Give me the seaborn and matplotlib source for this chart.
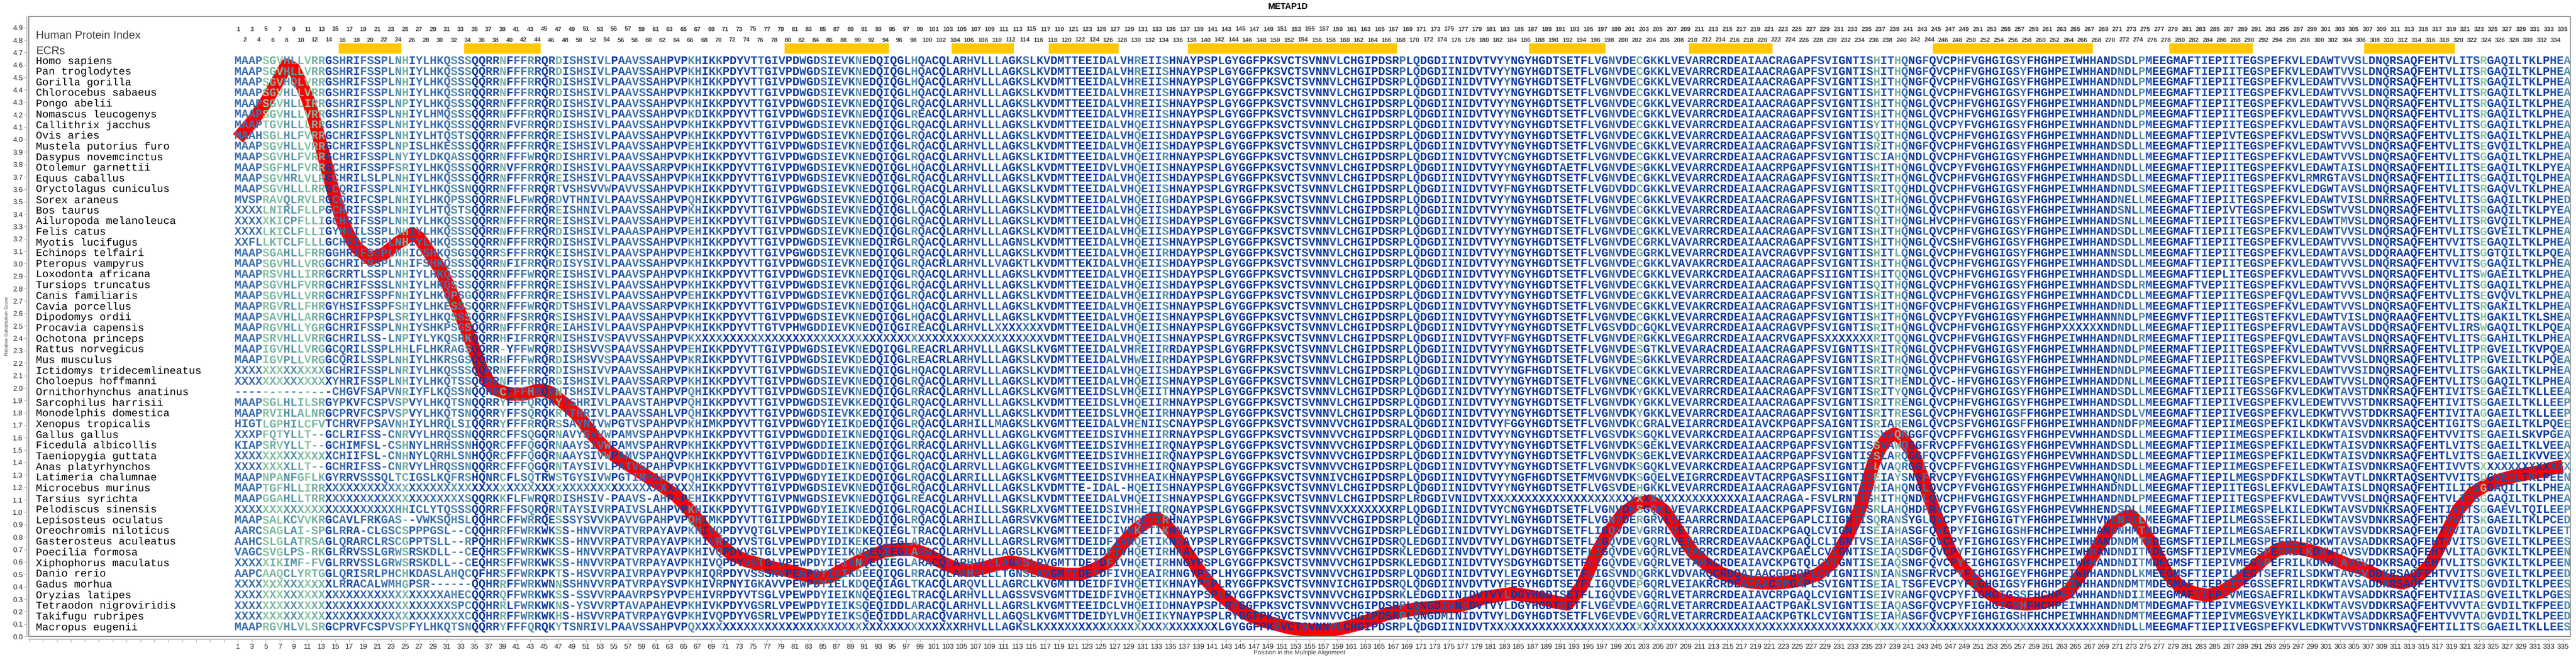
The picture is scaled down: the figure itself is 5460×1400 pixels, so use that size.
import matplotlib
matplotlib.use("Agg")
import matplotlib.pyplot as plt
from matplotlib.patches import Rectangle
import seaborn as sns

# ---------------- data ----------------
title = "METAP1D"

species = [
    "Homo sapiens", "Pan troglodytes", "Gorilla gorilla", "Chlorocebus sabaeus",
    "Pongo abelii", "Nomascus leucogenys", "Callithrix jacchus", "Ovis aries",
    "Mustela putorius furo", "Dasypus novemcinctus", "Otolemur garnettii",
    "Equus caballus", "Oryctolagus cuniculus", "Sorex araneus", "Bos taurus",
    "Ailuropoda melanoleuca", "Felis catus", "Myotis lucifugus", "Echinops telfairi",
    "Pteropus vampyrus", "Loxodonta africana", "Tursiops truncatus", "Canis familiaris",
    "Cavia porcellus", "Dipodomys ordii", "Procavia capensis", "Ochotona princeps",
    "Rattus norvegicus", "Mus musculus", "Ictidomys tridecemlineatus",
    "Choloepus hoffmanni", "Ornithorhynchus anatinus", "Sarcophilus harrisii",
    "Monodelphis domestica", "Xenopus tropicalis", "Gallus gallus",
    "Ficedula albicollis", "Taeniopygia guttata", "Anas platyrhynchos",
    "Latimeria chalumnae", "Microcebus murinus", "Tarsius syrichta",
    "Pelodiscus sinensis", "Lepisosteus oculatus", "Oreochromis niloticus",
    "Gasterosteus aculeatus", "Poecilia formosa", "Xiphophorus maculatus",
    "Danio rerio", "Gadus morhua", "Oryzias latipes", "Tetraodon nigroviridis",
    "Takifugu rubripes", "Macropus eugenii",
]

# evolutionarily conserved regions (human positions)
ecr_start = [16, 34, 80, 104, 118, 138, 187, 210, 245, 279, 307]
ecr_end = [24, 44, 94, 112, 127, 167, 197, 221, 267, 290, 319]

# smoothed relative substitution score (red curve)
score_pos = [1, 3, 5, 7, 8, 9, 10, 11, 12, 13,
             14, 15, 16, 17, 18, 20, 22, 24, 26, 27,
             28, 30, 31, 32, 33, 34, 35, 36, 37, 38,
             40, 42, 44, 45, 46, 48, 50, 52, 54, 56,
             58, 60, 62, 64, 66, 68, 70, 72, 74, 76,
             78, 80, 82, 84, 86, 88, 90, 92, 94, 96,
             98, 100, 102, 104, 106, 108, 110, 112, 114, 116,
             118, 120, 122, 124, 126, 128, 130, 132, 133, 134,
             136, 138, 140, 142, 144, 146, 148, 150, 152, 154,
             156, 158, 160, 162, 164, 166, 168, 170, 172, 174,
             176, 178, 180, 182, 184, 186, 188, 190, 192, 194,
             195, 196, 197, 198, 200, 202, 204, 206, 208, 210,
             212, 214, 216, 218, 220, 222, 224, 226, 228, 230,
             232, 234, 236, 237, 238, 239, 240, 241, 242, 243,
             244, 245, 246, 247, 248, 250, 252, 254, 256, 258,
             260, 262, 264, 266, 268, 270, 272, 273, 274, 276,
             278, 280, 282, 284, 286, 288, 290, 292, 294, 296,
             298, 300, 302, 304, 306, 308, 310, 312, 314, 316,
             318, 320, 322, 324, 326, 328, 330, 332, 334, 335]
score_val = [4.01, 4.14, 4.30, 4.50, 4.60, 4.57, 4.46, 4.33, 4.15, 3.94,
             3.72, 3.52, 3.34, 3.22, 3.13, 3.04, 3.08, 3.17, 3.24, 3.21,
             3.13, 2.96, 2.85, 2.72, 2.59, 2.45, 2.30, 2.15, 2.05, 1.99,
             1.95, 1.95, 1.98, 1.98, 1.96, 1.87, 1.77, 1.62, 1.50, 1.42,
             1.35, 1.28, 1.21, 1.13, 1.01, 0.87, 0.75, 0.66, 0.61, 0.58,
             0.55, 0.53, 0.50, 0.47, 0.48, 0.54, 0.60, 0.65, 0.69, 0.70,
             0.70, 0.66, 0.60, 0.55, 0.53, 0.55, 0.58, 0.60, 0.58, 0.54,
             0.51, 0.50, 0.50, 0.54, 0.60, 0.74, 0.86, 0.94, 0.95, 0.92,
             0.78, 0.62, 0.46, 0.34, 0.25, 0.18, 0.13, 0.10, 0.07, 0.055,
             0.05, 0.05, 0.07, 0.10, 0.14, 0.18, 0.20, 0.22, 0.23, 0.24,
             0.24, 0.27, 0.31, 0.33, 0.345, 0.33, 0.31, 0.28, 0.26, 0.40,
             0.52, 0.65, 0.75, 0.84, 0.99, 1.07, 1.09, 1.01, 0.84, 0.68,
             0.58, 0.51, 0.47, 0.44, 0.43, 0.43, 0.44, 0.46, 0.50, 0.59,
             0.78, 1.02, 1.40, 1.52, 1.60, 1.63, 1.60, 1.53, 1.43, 1.28,
             1.12, 0.97, 0.83, 0.69, 0.60, 0.47, 0.37, 0.30, 0.27, 0.26,
             0.27, 0.30, 0.36, 0.52, 0.70, 0.88, 0.96, 0.97, 0.92, 0.74,
             0.52, 0.40, 0.35, 0.33, 0.36, 0.43, 0.52, 0.62, 0.70, 0.72,
             0.70, 0.67, 0.63, 0.58, 0.55, 0.50, 0.45, 0.43, 0.47, 0.58,
             0.80, 1.02, 1.15, 1.22, 1.26, 1.29, 1.31, 1.33, 1.36, 1.37]

# colour class of every alignment column (0 = light green ... 5 = dark blue)
column_level = (
    "3333010221" "0115334433" "4332143333" "3232554415" "3324541433"
    "3432543334" "4354523543" "5554435445" "5454344342" "4554554244"
    "5545434443" "4543444554" "4554534442" "4442545554" "5454555554"
    "5554555445" "5555555354" "5554454555" "5535555555" "4555445345"
    "4153454544" "4555554444" "5445454444" "5544414413" "5535455354"
    "5554543555" "5544554554" "3442455555" "5445544455" "4354445354"
    "5434435545" "5555555444" "4405444454" "55442"
)

# alignment, positions 1-85
seg_a = [
    "MAAPSGVHLLVRRGSHRIFSSPLNHIYLHKQSSSQQRRNFFFRRQRDISHSIVLPAAVSSAHPVPKHIKKPDYVTTGIVPDWGDS",
    "MAAPSGVHLLVRRGSHRIFSSPLNHIYLHKQSSSQQRRNFFFRRQRDISHSIVLPAAVSSAHPVPKHIKKPDYVTTGIVPDWGDS",
    "MAAPSGVHQLVRRGSHRIFSSPLNHIYLHKQSSSQQRRNFFFRRQRDISHSIVLPAAVSSAHPVPKHIKKPDYVTTGIVPDWGDS",
    "MAAPSGVHLLVRRGSHRIFSSPLNHIYLHKQSSRQQRRNFFFRRQRDISHSIVLPAAVSSAHPVPKHIKKPDYVTTGIVPDWGDS",
    "MAAPSGVHLLIRRGSHRIFSSPLNPIYLHKQSSSQQRRNFFFRRQRDISHSIVLPAAVSSAHPVPKHIKKPDYVTTGIVPDWGDS",
    "MAAPSGVHLLVRRGSHRIFSSPLNHIYLHMQSSSQQRRNFFFRRQRDISHSIVLPAAVSSAHPVPKDIKKPDYVTTGIVPDWGDS",
    "MAAPTGVHLLLRRGSHRIFSSPLNHIYLHKQSSSQQRRNFVFRRQRDISHSIVLPAAVSSAHPVPKHIKKPDYVTTGIVPDWGDS",
    "MAAHSGLHLFVRRGCHRIFSSPLNHIYLHTQSTSQQRRNFFFRRQREISHSIVLPAAVSSAHPVPKHIKKPDYVTTGIVPDWGDS",
    "MAAPSGVHLLVRRGCHRIFSSPLNPISLHKESSSQQRRNFFFRRQREISHSIVLPAAVSSAHPVPEHIKKPDYVTTGIVPDWGDS",
    "MAAPSGVHLFVRRGCHRIFSSPLNYIYLDKQASSQQRRNFFFWRQRDISHRIVLPAAVSSAHPVPKHIKKPDYVTTGIVPDWGDS",
    "MAAPSGFHLFVRRGCHRIFSSPFSRIYLHKQSSSQQRRNVFFRRQRDISHSIVLPAAVSSARPVPKHIKKPDYVTTGIVPDWGDS",
    "MAAPSGVHRLVLRGCHRILSLPLNHIYLHKQSSSQQRRNFFFRRQREISHSIVLPAAVSSAHPVPKHIKKPDYVTTGIVPDWGDS",
    "MAAPSGVHLLLRRGCQRIFSSPLNHIYLHKQSSNQQRRNFFFRRQRTVSHSVVWPAVVSSAHPVPKHIKKPDYVTTGIVPDWGDS",
    "MVSPRAVQLRVLRGCQRIFCSPLNHIYLHKQPSSQQRRNFLFWRQRDVTHNIVLPAAVSSAHPVPQHIKKPDYVTTGIVPGWGDS",
    "XXXXLNIRLFLLPGCHRIFSSPLNHIYLHTQSTSQQRRNFFFRRQREISHNIVLPAAVSSAHPVPKHIKKPDYVTTGIVPDWGDS",
    "XXXXXKICPFLLIGCHRIFSSPLNHIYLHKQSSSQQRRNFFFRRQREISHSIVLPAAVSSAHPVPEHIKKPDYVTTGIVPDWGDS",
    "XXXXLKICLFLLIGYHRILSSPLNHIYLHKQSSSQQRRNFFFRRQRDISHSIVLPAAASPAHPVPEHIKKPDYVTTGIVPDWGDS",
    "XXFLLKTCLFLLLGCHRIFSSPLNHIYLHKQSSSQQRRNFFFRRQRDISHSIVLPAAVSSAHPVPKHIKKPDYVTTGIVPDWGDS",
    "MAAPSGAHLLFRRGGHRIFSSPLNHICSHKQSGSQQRRSFFFRRQKEISHSIVLPAAVSPAHPVPEHIKKPDYVTTGIVPGWGDS",
    "MAAPSGVHLLVRGGCHRIFSSPLNHIFSHKQSSSQQRRNFIFRRQRDISYSIVLPAAVSSAHPVPKHIKKPDYVTTGIVPDWGDS",
    "MAAPRSVHLLIRRGCRRTLSSPLNHIYLHKQSSSQQRRNFFFWRQREISHSIVLPAAVSPAHPVPKHIKKPDYVTTGIVPDWGDS",
    "MAAPSGVHLFVRRGCHRIFSSSLNHIYLHKQSSSQQRRNFFFRRQREISHSIVLPAAVSSAHPVPKHIKKPDYVTTGIVPDWGDS",
    "MAAPSGVHLLVRRGCHRIFSSPFNHIYLHKQPSGQQRRNFFFRRQREISHSIVLPAAVSSAHPVPEHIKKPDYVTTGIVPDWGDS",
    "MAAPRGVRLLFHRGYHSIFSSPFSHIYLHKESSSQQRRNFFFWRQRDTSHSIVLPAAVSSARPVPKHIKKPDYVTTGIVPDWGDS",
    "MAAPSAVHLLARRGCHRIFPSPLSRIYLHKQSSSQQRRNFFSRRQRSISHSIVLPAAVSSAHPVPKHIKKPDYVTTGIVPDWGDS",
    "MAAPRGVHLLYGRGCHRIFSSPLNHIYSHKPSGSQQRRNFFFRRQREIAHSIVLPAAVSPAHPVPKHIKKPDYVTTGTVPHWGDD",
    "MAAPSRVHLLVRRGCHRILSS-LNPIYLYKQSRKQQRRHFIFRRQRNISHSIVSPAVVSSAHPVPKXXXXXXXXXXXXXXXXXXX",
    "MAAPIGVHLLVRGGCQRILSSPLHHLFLHKRAGSQQRR-YFFWRQRDISHSVVSPAAVSSAHPVPEHIKKPDYVTTGIVPDWGDS",
    "MAAPIGVPLLVRGGCQRILSSPLNHIYLHKRSGSQQRRHFFFWRQRDISHSVVSPAAVSSAHPVPKRIKKPDYVTTGIVPDWGDS",
    "XXXXXXXXXXXXXGCHRIFSSPLNRIYLHKQSSSQQRRNFFFRRQRDISHSIVVPAAVSSAHPVPKHIKKPDYVTTGIVPDWGDS",
    "XXXXXXXXXXXXXXYHRIFSSPLNHIYLHKQTSSQQRRNFFFRRQRGISHSIVLPAAVSSARPVPKHIKKPDYVTTGIVPDWGDS",
    "--------------CHGVFSAPVNRIYFLKQSSNQQRRCFFFHRQRNTSHSIVLPAAVSTAHPVPQHIKKPDYVTTGIVPDWGDS",
    "MAAPSGLHLILSRGYPKVFCSPVSPVYLHKQTSNQQRRYFFFQRQKYTSHRIVLPAAVSTAHPVPQHIKKPDYVTTGIVPDWGDS",
    "MAAPRVIHLALNRGCPRVFCSPVSPVYLHKQTSNQQRRYFFSQRQKRTTHRIVLPAAVSSAHLVPQHIKKPDYVTTGIVPDWGDS",
    "HIGTLGPHILCFVTCHRVFPSAVNHIYLHRQLSIQQRRYFFFRRQRSSAYNIVWPGTVSPAHPVPKHIMKPDYVTTGIVPDWGDY",
    "XXXPFQTYLLT--GCLRIFSS-CNRVYLHRQSSNQQRRCFFSQGQRNAVYSVVWPAMVSPAHPVPKHIKKPDYVTTGIVPDWGDD",
    "KIAPSRVYLLT--GCHIMFSL-CSHNYLHRHSSNHQQRCFFFQGQRNAAYSIVWPAMVSPAHRVPKHIKKPDYVTTGIVPDWGDD",
    "XXXXXXXXXXXXXXCHIIFSL-CNHNYLQRHLSNHQQRCFFFQGQRNAAYSIVWPAMVSPAHQVPKHIKKPDYVTTGIVPDWGDD",
    "XXXXXXXXLLT--GCHRIFSS-CNRVYLHRQSSNQQRRCFFFQGQRNTAYSIVLPATVSPAHPVPKHIKKPDYVTTGIVPDWGDD",
    "MAAPNPANFGFLKGYRRVSSSQLTCIGSLKQFRSHQNRCFLSQTRWSTGYSIVWPGTIMPAHPVPQHIKKPDYVTTGIVPDWGDY",
    "MAAPTGFHLLIRRXXXXXXXXXXXXXXXXXXXXXXXXXXXXXXXXXXXXXXXXXXXXXXXXXXXXXHIKKPDYVTTGIVPDWGDS",
    "MAAPGGAHLLTRRXXXXXXXXXXXXXXXXXXXXSQQRKKFLFWRQRDISHSIV-PAAVS-AHP-PEHIKKPDYVTTGIVPNWGDS",
    "XXXXXXXXXXXXXXXXXXXXXXXHHICLYTQSSSQQRRFFFSQRQRNTAYSIVRPAIVSLAHPVPKHIKKPDYVTTGIVPDWGDY",
    "MAAPSALKCVVKRGCAVLFRKGAS--VWKSQHSLQQHRCFFWRRQESSSYSVVKPAVVGPAHPVPQHIMKPDYVTTGIIPDWGDY",
    "AARCSAGLAI-SPGLRRA-CLGSCSPPPGSL--CQQHRRFFWRKWKSS-HNVVRPATVRPAYAVPKHIVQPDYVQTGLVPEWPDY",
    "AAHCSLGLATRSAGLQRARCLRSCGPPTSLL--RPQHRHFFWRKWKSS-HNVVRPATVRPAYAVPKHIVRPDYVSTGLVPEWPDY",
    "VAGCSVGLPS-RKGLRRVSSLGRWSRSKDLL--CEQHRSFFWRKWKSS-HNVVRPATVRPAYAVPKHIVQPDYVSTGLVPEWPDY",
    "XXXXXIKIMF-FVGLRRVSSLGRWSRSKDLL--CEQHRSFFWRKWKSS-HNVVRPATVRPAYAVPKHIVQPDYVSTGLVPEWPDY",
    "AAPCAAQCLYRTGGLQRISRLPHCHKDASLAHQCQFHRSFFWRKPKTS-HSVVRPAIVRPAYPVPKHIQRPDYVSSSKVPEWPDY",
    "XXXXXXXXXXXXXXLRRACALWMHGPSR------QQHRRFFWRKWNNSSHNVVRPATVRPAYSVPKHIVRPNYIGKAVVPEWPDY",
    "XXXXXXXXXXXXXXXXXXXXXXXXXXXXXXAHECQQRRQFFWRKWKSS-SSVVRPAAVRPSYPVPEHIVRPDYVTSGLVPEWPDY",
    "XXXXXXXXXXXXXXXXXXXXXXXXXXXXXXXSPCQQHRRLFWRKWKNS-YSVVRPTAVAPAHEVPKHIVKPDYVGSRLVPEWPDY",
    "XXXXXXXXXXXXXXXXXXXXXXXXXXXXXXXXXCQQHRRFFWRKWKHS-HSVVRPATVRPAYGVPKHIVQPDYVGSRLVPEWPDY",
    "MAAPRGVHLVLSRGCPRVFCSPVSPFYLHKQTSNQQRRYFFFQRQKYTSNRIVLPAAVSSAHPVPQXXXXXXXXXXXXXXXXXXX",
]

# alignment, positions 85-170 (first letter repeats position 85)
seg_b = [
    "SIEVKNEDQIQGLHQACQLARHVLLLAGKSLKVDMTTEEIDALVHREIISHNAYPSPLGYGGFPKSVCTSVNNVLCHGIPDSRPLQ",
    "SIEVKNEDQIQGLHQACQLARHVLLLAGKSLKVDMTTEEIDALVHREIISHNAYPSPLGYGGFPKSVCTSVNNVLCHGIPDSRPLQ",
    "SIEVKNEDQIQGLHQACQLARHVLLLAGKSLKVDMTTEEIDALVHREIISHNAYPSPLGYGGFPKSVCTSVNNVLCHGIPDSRPLQ",
    "SIEVKNEDQIQGLHQACQLARHVLLLAGKSLKVDMTTEEIDALVHREIISHNAYPSPLGYGGFPKSVCTSVNNVLCHGIPDSRPLQ",
    "SIEVKNEDQIQGLRQACQLARHVLLLAGKSLKVDMTTEEIDALVHREIISHNAYPSPLGYGGFPKSVCTSVNNVLCHGIPDSRPLQ",
    "SIEVKNEDQIQGLREACQLARHVLLLAGKSLKVDMTTEEIDALVHREIISHNAYPSPLGYGGFPKSVCTSVNNVLCHGIPDSRPLQ",
    "SIEVKNEDQIQGLRQACQLARHVLLLAGKSLKVDMTTEEIDALVHQEIISHNAYPSPLGYGGFPKSVCTSVNNVLCHGIPDSRPLQ",
    "SIEVKNEDQIQGLRQACQLARHVLLLAGKSLKVDMTTEEIDALVHQEIISHDAYPSPLGYGGFPKSVCTSVNNVLCHGIPDSRPLQ",
    "SIEVKNEDQIQGLRQACQLARHVLLLAGKSLKVDMTTEEIDALVHQEIISHDAYPSPLGYGGFPKSVCTSVNNVLCHGIPDSRPLQ",
    "SIEVKNEDQIQGLRQACQLARHVLLLAGKSLKIDMTTEEIDALVHQEIIRHNAYPSPLGYGGFPKSVCTSVNNVLCHGIPDSRPLQ",
    "SIEVKNEDQIQGLHQACQLARHVLLLAGKSLKVDMTTEEIDVLVHQEIISHNAYPSPLGYGGFPKSVCTSVNNVLCHGIPDSRPLQ",
    "SIEVKNEDQIQGLRQACQLARHVLLLAGKSLKVDMTTEEIDALVHQEIISHDAYPSPLGYGGFPKSVCTSVNNVLCHGIPDSRPLQ",
    "SIEVKNEDQIQGLRQACQLARHVLLLAGKSLKVDMTTEEIDALVHQEIISHNAYPSPLGYRGFPKSVCTSVNNVLCHGIPDSRPLQ",
    "SIEVKNEDQIQGLRQACQLARHVLLLAGKSLKVDMTTEEIDALVHQEIIGHDAYPSPLGYGGFPKSVCTSVNNVLCHGIPDSRPLQ",
    "SIEVKNEDQIQGLLQACQLARHVLLLAGKSLKVDMTTEEIDALVHQEIISHDAYPSPLGYGGFPKSVCTSVNNVLCHGIPDSRPLQ",
    "SIEVKNEDQIQGLRQACQLARHVLLLAGKSLKVDMTTEEIDALVHQEIISHDAYPSPLGYGGFPKSVCTSVNNVLCHGIPDSRPLQ",
    "SIEVKNEDQIQGLRQACQLARHVLLLAGKSLKVDMTTEEIDALVHQEIISHDAYPSPLGYGGFPKSVCTSVNNVLCHGIPDSRPLQ",
    "SIEVKNEDQIRGLRQACQLARHVLLLAGNSLKVDMTTEEIDALVHQEIISHNAYPSPLGYGGFPKSVCTSVNNVLCHGIPDSRPLQ",
    "SIEVKNEDQIQGLRQACQLARHVLLLAGKSLKVDMTTEEIDALVHQEIIRHDAYPSPLGYGGFPKSVCTSVNNVLCHGIPDSRPLQ",
    "SIEVKNEDQIQGLRQACRLARHVLLVAGKTLKVDMTTEKIDALVHQEIISHDAYPSPLGYGGFPKSVCTSVNNVLCHGIPDSRPLQ",
    "SIEVKNEDQIQGLRQACQLARHVLLLAGKSLKVDMTTEEIDALVHQEIISHDAYPSPLGYGGFPKSVCTSVNNVLCHGIPDSRPLQ",
    "SIEVKNEDQIQGLRQACQLARHVLLLAGKSLKVDMTTEEIDALVHQEIISHDAYPSPLGYGGFPKSVCTSVNNVLCHGIPDSRPLQ",
    "SIEVKNEDQIQGLRQACQLARHVLLLAGKSLKVDMTTEEIDALVHQEIIRHDAYPSPLGYGGFPKSVCTSVNNVLCHGIPDSRPLQ",
    "SIEVKNEDQIQGLHQACQLARHVLLLAGKSLKVDMTTEEIDALVHQEIISHNAYPSPLGYGGFPKSVCTSVNNVLCHGIPDSRPLQ",
    "SIEVKNEDQIQGLHQACQLARHVLLLAGKSLKVDMTTEEIDALVHQEIISHNAYPSPLGYGGFPKSVCTSVNNVLCHGIPDSRPLQ",
    "DIEVKNEDQIQGIREACQLARHVLLXXXXXXXVDMTTEEIDALVHQEIISHNAYPSPLGYGGFPKSVCTSVNNVLCHGIPDSRPLQ",
    "XXXXXXXXXXXXXXXXXXXXXXXXXXXXXXXXVDMTTEEIDALVHQEIISHNAYPSPLGYRGFPKSVCTSVNNVLCHGIPDSRPLQ",
    "SIEVKNEDQIQGLREACRLARHVLLLAGKSLKVGMTTEEIDALVHREIIRRDAYPSPLGYGRFPKSVCTSVNNVLCHGIPDSRPLQ",
    "SIEVKDEDQIQGLREACRLARHVLLLAGKSLKVDMTTEEIDALVHWEIIRHDAYPSPLGYGRFPKSVCTSVNNVLCHGIPDSRPLQ",
    "SIEVKNEDQIQGLHQACQLARRVLLLAGKSLKVDMTTEEIDALVHQEIISHDAYPSPLGYGGFPKSVCTSVNNVLCHGIPDSRPLQ",
    "SIEVKNEDQIQGLRQACQLARHVLLLAGKSLKVDMTTEEIDALVHQEIISHNAYPSPLGYGGFPKSVCTSVNNVLCHGIPDSRPLQ",
    "SIEVKNEDQIQGLRRACQLARHVLLLAGKSLKVGMTTEEIDSLVHQEIITHNAYPSPLGYGGFPKSVCTSVNNVLCHGIPDSRPLQ",
    "SIEVKKEDQIQGLRQACQLARHVLLLAGKSLKVDMTTEEIDSLVHQEIIRHNAYPSPLGYGGFPKSVCTSVNNVLCHGIPDSRPLQ",
    "SIEVKKEDQIQGLRQACQLARHVLLLAGKSLKVDMTTEEIDSLVHQEIIRHNAYPSPLGYGGFPKSVCTSVNNVLCHGIPDSRPLQ",
    "YIEIKDEDQIQGLRQACQLARHILLMAGKSLKVGMTTEEIDALVHENIISCNAYPSPLGYGGFPKSVCTSVNNVVCHGIPDSRALQ",
    "DIEIKNEDQIQGLRQACQLARHVLLLAGKGLKVGMTTEEIDSIVHHEIIRRNAYPSPLGYGGFPKSVCTSVNNVVCHGIPDSRPLQ",
    "DIEIKNEDQIQGLRRACQLARHVLLLAGKGLKVGMTTEEIDSIVHHEIIRQNAYPSPLGYGGFPKSVCTSVNNVVCHGIPDSRPLQ",
    "DIEIKNEDQIQGLRQACQLARHVLLLAGKGLKVGMTTEEIDSIVHHEIIRQNAYPSPLGYGGFPKSVCTSVNNVVCHGIPDSRPLQ",
    "DIEIKNEDQIQGLRQACQLARRVLLLAGKGLKVGMTTEEIDSIVHHEIIRQNAYPSPLGYGGFPKSVCTSVNNVVCHGIPDSRPLQ",
    "YIEIKDEDQIQGLRQACQLARRILLLAGKSLKVGMTTEEIDSIVHHEAIKHNAYPSPLGYGGFPKSVCTSVNNIVCHGIPDSRPLQ",
    "SIEVKNEDQIQGLRQACQLARHVLLLAGKSLKVDMTTE-IDAL-HQEIISHNAYPSPLGYGGFPKSVCTSVNNVLCHGIPDSRPLQ",
    "SIEVKNEDQIQGLREACQLARHVLLLAGKSLKVDMTTEEIDALVHQEIISHNAYPSPLGYGGFPKSVCTSVNNVLCHGIPDSRPLR",
    "YIEIKNEDQIQGLRQACQLACHILLLSGKRLXVGMTTEEIDSIVHHEIIRQNAYPSPLGYGGFPKSVCTSVNNVXXXXXXXXRPLQ",
    "YIEIKDEDQIQGLRQACQLARHILLLAGRSVKVGMTTEEIDCIVHQETIRHNAYPSPLGYGGFPKSVCTSVNNVVCHGIPDSRPLQ",
    "YIEIKDKEQIEGLTRACQLARHVLLLAGRSLKVGMTTEEIDFIVHKETIKHNAYPSPLRYGGFPKSVCTSVNNVVCHGIPDSRPLE",
    "YIDIKEKEQIEGLARACQLARHVLLLAGRSLRVGMTTDEIDFIVHQETIKNDAYPSPLRYGGFPKSVCTSVNNVVCHGIPDSRQLE",
    "YIEIKNQEQIEGLARACQLARHVLLLAGGSLKVGMTTDEIDFIVHQETIRHNAYPSPLGYGGFPKSVCTSVNNVVCHGIPDSRKLE",
    "YIEIKNQEQIEGLARACQLARHVLLLAGGSLRVGMTTDEIDFIVHQETIRHNGYPSPLGYGGFPKSVCTSVNNVVCHGIPDSRKLE",
    "YIEIKDEEQIQGLRRACQLARHILLLTGNSLKVGMTTDEIDFIVHQEAIRHNGYPSPLHYGGFPKSVCTSVNNVVCHGIPDSRPLQ",
    "YIELKDQEQIAGLTKACQLARQVLLLAGRCLKVGMTTDEIDFIVHQETIKHNAYPSPLRYGGFPKSVCTSVNNVICHGIPDSRQLQ",
    "YIEIKNQEQIEGLTRACQLARHVLLLAGSSVSVGMTTDEIDFIVHQETIKHNAYPSPLRYGGFPKSVCTSVNNVVCHGIPDSRKLE",
    "YIEIKSQEQIDDLARACQLARHVLLLAGRSLKVGMTTEEIDCLVHQEIIDHNAYPSPLRYGGFPKSVCTSVNNVVCHGIPDSRPLQ",
    "YIEIKSQEQIDDLARACQVARHVLLLAGQSLKVGMTTDEIDYLVHQEIIKYNAYPSPLRYGGFPKSVCTSVNNVVCHGIPDSRPLQ",
    "XXXXXXXXXXXXXXXXXXXXRHVLLLAGKSLKXXXXXXXXXXXXXXXXXXXXXXXXXLGYGGFPKSVCTSVNNVLCHGIPDSRPLQ",
]

# alignment, positions 169-253 (first two letters repeat 169-170)
seg_c = [
    "LQDGDIINIDVTVYYNGYHGDTSETFLVGNVDECGKKLVEVARRCRDEAIAACRAGAPFSVIGNTISHITHQNGFQVCPHFVGHG",
    "LQDGDIINIDVTVYYNGYHGDTSETFLVGNVDECGKKLVEVARRCRDEAIAACRAGAPFSVIGNTISHITHQNGFQVCPHFVGHG",
    "LQDGDIINIDVTVYYNGYHGDTSETFLVGNVDECGKKLVEVARRCRDEAIAACRAGAPFSVIGNTISHITHQNGFQVCPHFVGHG",
    "LQDGDIINIDVTVYYNGYHGDTSETFLVGNVDECGKKLVEVARRCRDEAIAACRAGAPFSVIGNTISHITHQNGLQVCPHFVGHG",
    "LQDGDIINIDVTVYYNGYHGDTSETFLVGNVDECGKKLVEVARRCRDEAIAACRAGAPFSVIGNTISHITHQNGLQVCPHFVGHG",
    "LQDGDIINIDVTVYYNGYHGDTSETFLVGNVDECGKKLVEVARRCRDEAIAACRAGAPFSVIGNTISHITHQNGLQVCPHFVGHG",
    "LQDGDIINIDVTVYYNGYHGDTSETFLVGNVDECGKKLVEVARRCRDEAIAACRAGAPFSVIGNTISYITHQNGLQVCPYFVGHG",
    "LQDGDIINIDVTVYYNGYHGDTSETFLVGNVDECGKKLVEVARRCRDEAIAACRAGAPFSVIGNTISQITHQNGLQVCPHFVGHG",
    "LQDGDIINIDVTVYYNGYHGDTSETFLVGNVDECGKKLVEVARRCRDEAIAACRAGAPFSVIGNTISRITHQNGFQVCPHFVGHG",
    "LQDGDIINIDVTVYCNGYHGDTSETFLVGNVDECGKKLVEVARRCRDEAIAACRAGAPFSVIGNTISCIAHQNDLQVCPHFVGHG",
    "LQDGDIINIDVTVYYNGYHGDTAETFLVGNVDESGKKLVEVARRCRDEAIAACRPGAPFSVIGNTISHITHQNGLQVCPYFVGHG",
    "LQDGDIINIDVTVYYNGYHGDTSETFLVGNVDECGKKLVEVARRCRDEAIAACRAGAPFSVIGNTISRITHQNGLQVCPHFVGHG",
    "LQDGDIINIDVTVYFNGYHGDTSETFLVGDVDDCGKKLVEVARRCRDEAIAACRAGAPFSVIGNTISRITQQHDLQVCPHFVGHG",
    "LQDGDIINIDVTVYYNGYHGDTSETFLVGNVDECGKKLVEVAKRCRDEAIAACRAGAPFSVIGNTISHITHQNGLQVCPHFVGHG",
    "LQDGDIINIDVTVYYNGYHGDTSETFLVGNVDECGKKLVEVARRCRDEAIAACRAGAPFSVIGNTISQITHQNGLQVCPHFVGHG",
    "LQDGDIINIDVTVYYNGYHGDTSETFLVGNVDECGKKLVEVARRCRDEAIAACRAGAPFSVIGNTISHITHQNGLHVCPHFVGHG",
    "LQDGDIINIDVTVYYNGYHGDTSETFLVGNVDECGKKLVEVARRCRDEAIAACRAGAPFSVIGNTISHITHQNGLQVCPHFVGHG",
    "LQDGDIINIDVTVYYNGYHGDTSETFLVGNVDECGRKLVAVARRCRDEAIAACRAGAPFSVIGNTISHITHQNGLQVCSHFVGHG",
    "LQDGDIINIDVTVYYNGYHGDTSETFLVGNVDEGGRKLVEVARRCRDEAIAVCRAGVPFSVIGNTISHITLQNGLQVCPHFVGHG",
    "LQDGDIINIDVTVYYNGYHGDTSETFLVGNVDECGKKLVAVAKRCRDEAIAACRAGAPFSVIGNTISHITHQNGLQVCPHFVGHG",
    "LQDGDIINIDVTVYYNGYHGDTSETFLVGNVDECGKKLVEVARKCRDEAIAACRAGAPFSIIGNTISHITQQNGLQVCPHFVGHG",
    "LQDGDIINIDVTVYYNGYHGDTSETFLVGNVDECGKKLVEVARRCRDEAIAACRAGAPFSVIGNTISQITHQNGLQVCPHFVGHG",
    "LQDGDIINIDVTVYYNGYHGDTSETFLVGNVDECGKKLVEVARRCRDEAIAACRAGAPFSVIGNTISHITHQNGLQVCPHFVGHG",
    "LQDGDIINIDVTVYYNGYHGDTSETFLVGNVDECGKKLVEVAKRCRDEAIAACRAGAPFSVIGNTISHITHQNGFQVCPHFVGHG",
    "LQDGDIINIDVTVYYNGYHGDTSETFLVGNVDECGKKLVEVARRCRDEAIAACRAGAPFSVIGNTISHITHQNGLQVCPYFVGHG",
    "LQDGDIINIDVTVYYNGYHGDTSETFLVGSVDDCGQKLVEVARRCRDEAIAACRAGVPFSVIGNTISRITHQNGLQVCPHFVGHG",
    "LQDGDIINIDVTVYFNGYHGDTSETFLVGNVDERGKKLVEGARRCRDEAIAACRVGAPFSXXXXXXXRITQQNGLQVCPHFVGHG",
    "LQDGDIINIDVTVYYNGYHGDTSETFLVGNVDESGTKLVEVARACRDEAIAACRAGAPFSVIGNTISHITRQNGLQVCPHFVGHG",
    "LQDGDIINIDVTVYYNGYHGDTSETFLVGNVDESGKKLVEVARRCRDEAIAACRAGAPFSVIGNTISRITHQNGLQVCPHFVGHG",
    "LQDGDIINIDVTVYYNGFHGDTSETFLVGKVDECGKKLVEVARRCRDEAIAACRAGAPFSVIGNTISRITRQNGLQVCPHFVGHG",
    "LQDGDIINIDVTVYYNGYHGDTSETFLVGNVNECGKKLVEVARRCRDEAIAACRAGAPFSVIGNTISRITHENDLQVC-HFVGHG",
    "LQDGDIINIDVTVYYNGYHGDTSETFLVGNVDKYGKKLVEVARRCRDEAIAACRAGAPFSVIGNTISRITYQNGLQVCPHFVGHG",
    "LQDGDIINIDVTVYYNGYHGDTSETFLVGNVDKYGKKLVEVARRCRDEAIAACRAGAPFSVIGNTISRITRENGLQVCPHFVGHG",
    "LQDGDIINIDVTVYYNGYHGDTSETFLVGNVDKYGKKLVEVARRCRDEAIAACRAGAPFSVIGNTISRITRESGLQVCPHFVGHG",
    "LQDGDIINIDVTVYFGGYHGDTSETFLVGNVDKCGRALVEIARRCRDEAIAVCKPGAPFSAIGNTISRIARENGLQVCPSFVGHG",
    "LQDGDIINIDVTVYYNGYHGDTSETFLVGSVDKSGQKLVEVARKCRDEAIAACRPGAPFSVIGNTISSVAQRGGFQVCPFFVGHG",
    "LQDGDIINIDVTVYYNGYHGDTSETFLVGNVDKSGEKLVEVARKCRDEAIAACRPGAPFSVIGNTISSVAWQGGFRVCPFFVGHG",
    "LQDGDIINIDVTVYYNGYHGDTSETFLVGNVDKSGEKLVEVARKCRDEAIAACRPGAPFSVIGNTISSLARQGGFQVCPFFVGHG",
    "LQDGDIINIDVTVYYNGYHGDTSETFLVGNVDKSGQKLVEVARKCRDEAIAACRPGAPFSVIGNTISLVAQRGGFQVCPFFVGHG",
    "LQDGDIINIDVTVYYNGFHGDTSETFMVGNVDKSGQELVEIGRRCRDEAVTACRPGASFSIIGNTISEIAYSNGFRVCPYFVGHG",
    "LQDGDIINIDVTVYYNGYHGDTSETFLVGSVDEHGKKLVEVARRCRDEAIAACRAGAPFSVIGNTISHIAHQNGLQVCPYFVGHG",
    "LRDGDIVNIDVTXXXXXXXXXXXXXXXXXXXXXXXXXXXXXXXXXXXXAIAACRAGA-FSVLRNTISHITHQNDLQVCPHFVGHG",
    "LQDGDIINIDVTVYCNGYHGDTSETFLVGNVDKSGQKLVEVARKCRDEAIAACKPGAPFSVIGNTISRLAHQHDFRVCPYFVGHG",
    "LQDGDIINIDVTVYLNGYHGDTSETFLVGNVDERGRVLVEAARRCRNDAIAACEPGAPLCIIGNTISQRANSYGLQVCPYFIGHG",
    "LEDGDIINIDVTVYLDGYHGDTSETFLIGQVDEVGRRLVETARRCRDEAIDACKPGAQLCVIGNTISEIAHASGFQVCPYFIGHG",
    "LEDGDIINVDVTVYLDGYHGDTSETFLIGQVDEVGQRLVETARRCRDEAVAACKPGAQLCLIGNTVSEIAHASGFQVCPYFIGHG",
    "LEDGDIINVDVTVYLDGYHGDTSETFLIGQVDEVGQRLVETARRCRDEAIAVCKPGAELCVIGNTISEIAQSDGFQVCPYFIGHG",
    "LEDGDIINIDVTVYSDGYHGDTSETFLIGQVDEVGQRLVETARRCRDEAIAVCKPGTQLCVIGNTISEIAQSNGFQVCPYFIGHG",
    "LQDGDIINIDVTVYLEGYHGDTSETFLIGSVNDQGRKLVDVARQCRDQAIAACGPGQPLCVIGNIISNIANSNGFRVCPYFIGHG",
    "LQDGDIINVDVTVYFEGYHGDTSETFLIGQVDEPGQRLVEIAKRCRDEAIAACRPGAPLSVIGNTISEIALTSGFEVCPYFIGHG",
    "LEDGDIINIDVTVYLDGYHGDTSETFLIGQVDEVGQRLVETARRCRDEAIAVCRPGAQLCVIGNTISEIVRANGFQVCPYFIGHG",
    "LQNGDIVNIDVTVYLDGYHGDTSETFLVGEVDEAGQRLVETARRCRDEAIAACTPGAKLSVIGNTISEIAQASGFQVCPYFIGHG",
    "LQNGDMINIDVTVYLDGYHGDTSETFLVGEVDEVGQRLVETARRCRDEAIAACKPGTKLCVIGNTISEIAHASGFQVCPYFIGHG",
    "LQDGDIINIDVTXXXXXXXXXXXXXXXXXXXXXXXXXXXXXXXXXXXXXXXXXXXXXXXXXXXXXXXXXXXXXXXXXXXXXXXXX",
]

# alignment, positions 252-335 (first two letters repeat 252-253)
seg_d = [
    "IGIGSYFHGHPEIWHHANDSDLPMEEGMAFTIEPIITEGSPEFKVLEDAWTVVSLDNQRSAQFEHTVLITSRGAQILTKLPHEA",
    "IGIGSYFHGHPEIWHHANDNDLPMEEGMAFTIEPIITEGSPEFKVLEDAWTVVSLDNQRSAQFEHTVLITSRGAQILTKLPHEA",
    "IGIGSYFHGHPEIWHHANDNDLPMEEGMAFTIEPIITEGSPEFKVLEDAWTVVSLDNQRSAQFEHTVLITSRGAQILTKLPHEA",
    "IGIGSYFHGHPEIWHHANDNDLPMEEGMAFTIEPIITEGSPEFKVLEDAWTVVSLDNQRSAQFEHTVLITSRGAQILTKLPHEA",
    "IGIGSYFHGHPEIWHHANDNDLPMEEGMAFTIEPIITEGSPEFKVLEDAWTVVSLDNQRSAQFEHTVLITSRGAQILTKLPHEA",
    "IGIGSYFHGHPEIWHHANDNDLPMEEGMAFTIEPIITEGSPEFKVLEDAWTVVSLDNQRSAQFEHTVLITSRGAQILTKLPHEA",
    "IGIGSYFHGHPEIWHHANDNDLPMEEGMAFTIEPIITEGSPEFKVLEDAWTAVSLDNQRSAQFEHTVLITSGGAQILTKLPHEA",
    "IGIGSYFHGHPEIWHHANDNDLLMEEGMAFTIEPIVTEGSPEFKVLEDSWTVVSLDNQRSAQFEHTVLITSRGAQILTKLPHEA",
    "IGIGSYFHGHPEIWHHANDSDLLMEEGMAFTIEPIITEGSPEFKVLEDAWTVVSLDNQRSAQFEHTVLITSEGVQILTKLPHEA",
    "IGIGSYFHGHPEIWHHANDNDLLMEEGMAFTIEPIITEGSPEFKVLEDAWTVVSLDNQRSAQFEHTVLITSGGAQILTKLPHEA",
    "IGIGSYFHGHPEIWHHANDNDLLMEEGMAFTIEPIITEGSPEFKVLEDAWTAISLDNQRSAQFEHTILITSEGAQILTKLPYEA",
    "IGIGSYFHGHPEIWHHANDSDLLMEEGMAFTIEPIITEGSPEFKVLRMRGTAVSLDNQRSAQFEHTILITSGGAQILTQLPHEA",
    "IGIGSYFHGHPEIWHHANDNDLSMEEGMAFTIEPIITEGSPEFKVLEDGWTAVSLDNQRSAQFEHTVLITSRGAQVLTKLPHEA",
    "IGIGSYFHGHPEIWHHANDNELLMEEGMAFTIEPIITEGSPEFKVLEDAWTVISLDNRRSAQFEHTVLITSGGAQILTKLPHED",
    "IGIGSYFHGHPEIWHHANDSNLLMEEGMAFTIEPIVTEGSPEFKVLEDSWTVVSLDNQRSAQFEHTVLITSRGAQILTKLPYEA",
    "IGIGSYFHGHPEIWHHANDSNLLMEEGMAFTIEPIITEGSPEFKVLEDAWTMVSLDNQRSAQFEHTVLITSRGVQILTKLPHEA",
    "IGIGSYFHGHPEIWHHANDSDLLMEEGMAFTIEPIITEGSPEFKVLEDAWTVVSLDNQRSAQFEHTVLITSGGVEILTKLPHEA",
    "IGIGSYFHGHPEIWHHANDSDLLMEEGMAFTIEPIITEGSPEFKVLEDAWTVVSLDNQRSAQFEHTVVITSEGAQILTKLPHEA",
    "IGIGSYFHGHPEIWHHANNSDLLMEEGMAFTIEPIITEGSPEFKVLEDAWTAVSLDDQRAAQFEHTVLITSGGTQILTKLPQEA",
    "IGIGSYFHGHPEIWHHANDSDLLMEEGMAFTIEPIITEGSPEFKVLEDAWTVVSLDNQRSAQFEHTVVITSGGAQILTKLPHEA",
    "IGIGSYFHGHPEIWHHANDSDLLMEEGMAFTIEPLITEGSPEFKVLEDAWTVVSLDNQRSAQFEHTVLITSWGAEILTKLPHEA",
    "IGIGSYFHGHPEIWHHANDSDLRMEEGMAFTVEPIITEGSPEFKVLEDAWTVVSLDNQRSAQFEHTVLITSGGAQILTKLPHEA",
    "IGIGSYFHGHPEIWHHANDCDLLMEEGMAFTIEPIITEGSPEFQVLEDAWTVVSLDNQRSAQFEHTVLITSEGVQVLTKLPHEA",
    "IGIGSYFHGHPEIWHHANDNDLLMEEGMAFTIEPIITEGSPEFKVLEDAWTVVSLDNQRSAQFEHTVLITSRGAKILTKLPHEA",
    "IGIGSYFHGHPEIWHHANNNDLPMEEGMVFTIEPIITEGSTEFKVLEDAWTVISLDNQRAAQFEHTVLITSHGAKILTKLSHEA",
    "IGIGSYFHGHPXXXXXXNDNDLLMEEGMAFTIEPIITEGSPEFRVLEDAWTAVSLDDQRSAQFEHTVLIRSWGAQILTKLPQEA",
    "IGIGSYFHGHPEIWHHANDNDLRMEEGMAFTIEPIITEGSPEFQVLEDAWTAVSLDNQRSAQFEHTVLITSGGAHILTKLPHEA",
    "IGIGSYFHGHPEIWHHANDNDLPMEERMAFTIEPIITEGSPEFKVLEDAWTVVSLDNRRSAQFEHTVLITPRGVEILTKVPQEA",
    "IGIGSYFHGHPEIWHHANDNDLPMEEGMAFTIEPIITEGSPEFKVLEDAWTVVSLDNQRSAQFEHTVLITPRGVEILTKLPQEA",
    "IGIGSYFHGHPEIWHHENDNDLPMEEGMAFTIEPIITEGSPEFKVLEDAWTVVSIDNQRSAQFEHTVLITSGGAKILTKLPHEA",
    "IGIGSYFHGHPEIWHHANDDNLLMEEGMAFTIEPIITEGSPEFKVLEDAWTVVSLDNQRSAQFEHTVLITSGGAQILTKLPHEA",
    "IGIGSYFHGHPEIWHHANDSDLLMEEGMAFTIEPIITEGSSGFKVLEDKWTAVSTDNKRSAQFEHTIVITSEGAEILTKLLEEA",
    "IGIGSYFHGHPEIWHHANDSDLLMEEGMAFTIEPIIVEGSPEFKVLEDEWTVVSTDNKRSAQFEHTIVITSGGAEILTKLLEEP",
    "IGIGSFFHGHPEIWHHANDSDLVMEEGMAFTIEPIIVEGSPEFKVLEDKWTVVSTDDKRSAQFEHTIVITAGGAEILTKLLEEP",
    "IGIGSFFHGHPEIWHHANDNDFPMEEGMAFTIEPIIMEGSPEFKILKDKWTAVSVDNKRSAQCEHTIGITSGGAEILTKLPQEE",
    "IGIGSYFHGHPEVWHHANDSDLLMEEGMAFTIEPIIMEGSPEFKILKDKWTAISVDNKRSAQFEHTVVITSEGAEILSKVPGEA",
    "IGIGSYFHGHPEVWHHANDSDLLMEEGMAFTIEPIIMEGSPEFKILEDKWTAISVDNKRSAQFEHTLVITSEGAEILTKLVEEA",
    "IGIGSYFHGHPEVWHHANDSDLLMEEGMAFTIEPIIMEGSPEFKILEDKWTAISVDNKRSAQFEHTLVITSEGAEILIKVVEEX",
    "IGIGSYFHGHPEVWHHANDSDLLMEEGMAFTIEPIIMEGSPEFEILEDKWTAISVDNKRSAQFEHTIVVTSXXXXXXXXXXXXX",
    "IGIGSYFHGHPEVWHHANQNDLLMEAGMAFTIEPILMEGSPDFKILSDKWTAVTLDNKRTAQSEHTVVITSDGVEILTKLPEEN",
    "IGIGSYFHGHPEIWHHANDNDLLMEEGMAFTIEPIITEGSLEFKVLEDAWTAISLDNQRSAQFEHTILITSGGAQILTKLPHEA",
    "IGIGSYFHGHPEIWHHANDNDLPMEEGMAFTIEPIITEGSPEFKVLEDAWTVVSLDNQRSAQFEHTVLITSGGAQILTKLPHEA",
    "IGIGSYFHGHPEVWHHENDSDLLMEEGMAFTIEPIIMEGSPELKILEDKWTAVSVDNKRSAQFEHTIVITSGGAEVLTQILEEP",
    "IGIGTYFHGHPEIWHHVNENDILMEEGMAFTIEPILMEGSSEFKILEDKWTAVSVDNKRSAQFEHTVVITSKGAEILTKLPCED",
    "IGIGSHFHCHPEIWHHANDNHMTMDEGMAFTIEPILMEGSAEFRILKDKWTAVSVDDKRSAQFEHTVVITADGVDILTKLPEET",
    "IGIGSYFHCHPEIWHHANDNDMTMDEGMSFTIEPILMEGSPEFRILRDKWTAVSADDKRSAQFEHTVVITSDGVEILTKLPEES",
    "IGIGSYFHCHPEIWHHANDNDITMDEGMSFTIEPIVMEGSPEFRILKDKWTAVSVDDKRSAQFEHTVLITADGVKILTKLPEEN",
    "IGIGSYFHCHPEIWHHANDNDITMDEGMSFTIEPIVMEGSPEFRILKDKWTAVSVDDKRSAQFEHTVLITSDGVKILTKLPEEN",
    "IGIGEYFHGHPEIWHHANDNDLKMEEGMSFTIEPILMEGTSEFRILSDKWTAVSVDDKRSAQFEHTVVITSDGVEILTKLPEED",
    "IGIGSYFHGHPEIWHHANDNDMTMDEGMAFTIEPIITEGSSEFRILRDKWTAVSADDKRSAQFEHTVVITSDGVDILTKLPEES",
    "IGIGSSFHCHPEIWHHANDNDIIMEEGMAFTIEPIVMEGSAEFRILKDKWTAVSADDKRSAQFEHTVIIASDGVEILTKLPGES",
    "IGIGSHFHCHPEIWHHANDNDMTMDEGMAFTIEPIVMEGSVEYKILKDKWTAVSVDDKRSAQFEHTVVVTAEGVDILTKFPEED",
    "IGIGSHFHCHPEIWHHANDNDMTMEEGMAFTIEPIVMEGSVEYKILKDKWTAVSADDKRSAQFEHTVVVTADGVDILTKLPEED",
    "XXXXXXXXXXXXXXXXXNDNDLLMEEGMAFTIEPIIVEGSPEFKVLEDKWTVVSTDNKRSAQFEHTILITSGGAEILTKLLEES",
]

level_colors = ["#8dc6a1", "#76b2a5", "#5a92ab", "#3f70ae", "#2452a8", "#0b38a1"]


def fit(s, n):
    return (s + "-" * n)[:n]


alignment = [fit(a, 85) + fit(b[1:], 85) + fit(c[2:], 83) + fit(d[2:], 82)
             for a, b, c, d in zip(seg_a, seg_b, seg_c, seg_d)]
n_pos = len(alignment[0])

# ---------------- figure ----------------
sns.set_theme(style="white")
plt.rcParams["font.family"] = ["Liberation Sans", "DejaVu Sans"]
plt.rcParams["text.hinting"] = "no_hinting"

W, H, DPI = 5460, 1400, 100
fig = plt.figure(figsize=(W / DPI, H / DPI), dpi=DPI)
fig.patch.set_facecolor("white")

ax_l, ax_r, ax_t, ax_b = 61, 5448, 35, 1350
ax = fig.add_axes([ax_l / W, 1 - ax_b / H, (ax_r - ax_l) / W, (ax_b - ax_t) / H])
xmin, xmax = -29.06, 336.1
ymin, ymax = 0.0, 4.99
ax.set_xlim(xmin, xmax)
ax.set_ylim(ymin, ymax)
px_x = (ax_r - ax_l) / (xmax - xmin)
px_y = (ax_b - ax_t) / (ymax - ymin)


def ydat(py):
    return ymax - (py - ax_t) / px_y


def xdat(px):
    return xmin + (px - ax_l) / px_x


# red substitution-score curve, behind the letters
sns.lineplot(x=score_pos, y=score_val, ax=ax, color="#ff0000", linewidth=20,
             sort=False, estimator=None, solid_capstyle="butt", solid_joinstyle="round")
ax.lines[-1].set_zorder(1)

# ECR bars
for s, e in zip(ecr_start, ecr_end):
    ax.add_patch(Rectangle((s - 0.5, ydat(113.5)), e - s + 1, ydat(92.5) - ydat(113.5),
                           facecolor="#ffc800", edgecolor="none", zorder=2))

# human protein index numbers
for p in range(1, n_pos + 1):
    base = 66 if p % 2 == 1 else 88.5
    ax.text(p, ydat(base), str(p), ha="center", va="baseline", fontsize=9.5,
            fontweight="bold", color="#404040", zorder=3)

ax.text(xdat(76), ydat(82), "Human Protein Index", fontsize=17, color="#404040",
        va="baseline", ha="left", zorder=3)
ax.text(xdat(76), ydat(115.5), "ECRs", fontsize=17, color="#404040",
        va="baseline", ha="left", zorder=3)

# species names and coloured alignment rows
seq_size = px_x / 0.6001 * 72 / DPI
for r, (name, row) in enumerate(zip(species, alignment)):
    base = ydat(136 + r * 22.66)
    ax.text(xdat(76), base, name, fontsize=16.2, family="Liberation Mono",
            color="black", va="baseline", ha="left", zorder=3)
    for lv, col in enumerate(level_colors):
        txt = "".join(ch if int(column_level[i]) == lv else " " for i, ch in enumerate(row))
        if txt.strip():
            ax.text(0.5, base, txt, fontsize=seq_size, family="Liberation Mono",
                    fontweight="bold", color=col, va="baseline", ha="left", zorder=3)

# axes styling
yt = [i / 10 for i in range(50)]
ax.set_yticks(yt)
ax.set_yticklabels([f"{v:.1f}" for v in yt], fontsize=9, color="#666666")
xt = list(range(-29, 336, 2))
ax.set_xticks(xt)
ax.set_xticklabels([str(v) if v >= 1 else "" for v in xt], fontsize=8.5, color="#666666")
ax.tick_params(axis="both", length=4, width=1, color="#aaaaaa", direction="out", pad=2)
ax.tick_params(axis="x", pad=3)
ax.tick_params(left=True, bottom=True)
for side in ["top", "right", "left", "bottom"]:
    ax.spines[side].set_color("#8a8a8a")
    ax.spines[side].set_linewidth(1.4)
ax.spines["left"].set_position(("outward", 3))
ax.spines["bottom"].set_position(("outward", 4))
ax.spines["left"].set_color("#bbbbbb")
ax.spines["bottom"].set_color("#bbbbbb")
ax.plot([0, 0], [0, 1], transform=ax.transAxes, color="#8a8a8a", lw=1.4, clip_on=False, zorder=4)
ax.plot([0, 1], [0, 0], transform=ax.transAxes, color="#8a8a8a", lw=1.4, clip_on=False, zorder=4)
ax.grid(False)

fig.text((ax_l + ax_r) / 2 / W, 1 - 1385 / H, "Position in the Multiple Alignment",
         ha="center", va="center", fontsize=9.5, color="#444444")
fig.text(14 / W, 1 - 692 / H, "Relative Substitution Score", rotation=90,
         ha="center", va="center", fontsize=7.5, color="#444444")
fig.text(0.5, 1 - 14 / H, title, ha="center", va="center", fontsize=13,
         fontweight="bold", color="black")

fig.savefig("out.png", dpi=DPI, facecolor="white")
